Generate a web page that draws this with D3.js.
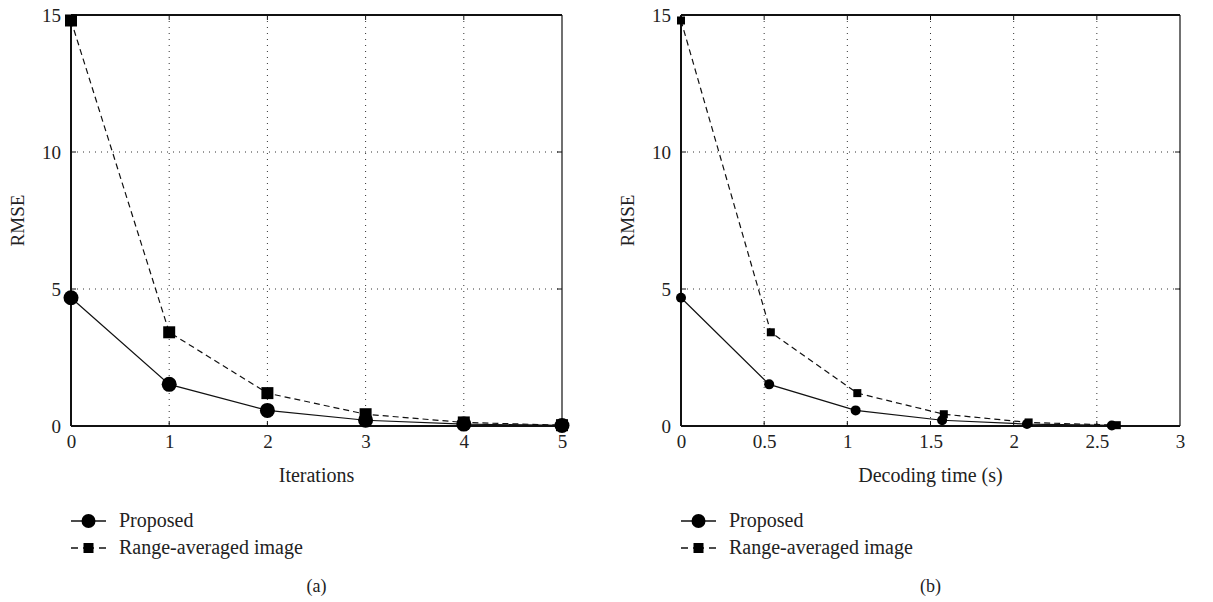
<!DOCTYPE html>
<html><head><meta charset="utf-8">
<script src="https://cdn.jsdelivr.net/npm/d3@7"></script>
<style>body{margin:0;background:#fff}svg{display:block}text{font-family:"Liberation Serif","DejaVu Serif",serif;fill:#222}</style>
</head><body>
<svg id="c" width="1213" height="602"></svg>
<script>
const iterations = [0, 1, 2, 3, 4, 5];
const proposedRMSE = [4.68, 1.52, 0.57, 0.21, 0.07, 0.02];
const rangeAvgRMSE = [14.8, 3.42, 1.2, 0.43, 0.13, 0.03];
const proposedTime = [0, 0.53, 1.05, 1.57, 2.08, 2.59];
const rangeAvgTime = [0, 0.54, 1.06, 1.58, 2.09, 2.62];
const iterTicks = [0, 1, 2, 3, 4, 5];
const timeTicks = [0, 0.5, 1, 1.5, 2, 2.5, 3];
const yTicks = [0, 5, 10, 15];
const legendLabels = ["Proposed", "Range-averaged image"];

const svg = d3.select("#c");
const plotTop = 15, plotBottom = 426;

function panel(opt) {
  const x = d3.scaleLinear().domain(opt.xDomain).range([opt.x0, opt.x1]);
  const y = d3.scaleLinear().domain([0, 15]).range([plotBottom, plotTop]);
  const g = svg.append("g");
  g.selectAll(".vg").data(opt.xTicks.slice(1, -1)).join("line")
    .attr("x1", d => x(d)).attr("x2", d => x(d)).attr("y1", plotTop).attr("y2", plotBottom)
    .attr("stroke", "#333").attr("stroke-width", 1).attr("stroke-dasharray", "1,5");
  g.selectAll(".hg").data(yTicks.slice(1, -1)).join("line")
    .attr("x1", opt.x0).attr("x2", opt.x1).attr("y1", d => y(d)).attr("y2", d => y(d))
    .attr("stroke", "#333").attr("stroke-width", 1).attr("stroke-dasharray", "1,5");
  // small inward ticks
  const tk = g.append("g").attr("stroke", "#111").attr("stroke-width", 1);
  opt.xTicks.slice(1, -1).forEach(d => {
    tk.append("line").attr("x1", x(d)).attr("x2", x(d)).attr("y1", plotBottom).attr("y2", plotBottom - 5);
    tk.append("line").attr("x1", x(d)).attr("x2", x(d)).attr("y1", plotTop).attr("y2", plotTop + 5);
  });
  yTicks.slice(1, -1).forEach(d => {
    tk.append("line").attr("x1", opt.x0).attr("x2", opt.x0 + 5).attr("y1", y(d)).attr("y2", y(d));
    tk.append("line").attr("x1", opt.x1).attr("x2", opt.x1 - 5).attr("y1", y(d)).attr("y2", y(d));
  });
  const xa = g.append("g").attr("transform", `translate(0,${plotBottom})`)
    .call(d3.axisBottom(x).tickValues(opt.xTicks).tickSize(0).tickPadding(9).tickFormat(d3.format("")));
  xa.select(".domain").remove();
  xa.selectAll("text").style("font-size", "19px").attr("fill", "#222");
  const ya = g.append("g").attr("transform", `translate(${opt.x0},0)`)
    .call(d3.axisLeft(y).tickValues(yTicks).tickSize(0).tickPadding(10));
  ya.select(".domain").remove();
  ya.selectAll("text").style("font-size", "19px").attr("fill", "#222");
  g.append("line").attr("x1", opt.x0).attr("x2", opt.x1).attr("y1", plotTop).attr("y2", plotTop).attr("stroke", "#111").attr("stroke-width", 2);
  g.append("line").attr("x1", opt.x0).attr("x2", opt.x1).attr("y1", plotBottom).attr("y2", plotBottom).attr("stroke", "#111").attr("stroke-width", 2);
  g.append("line").attr("x1", opt.x0).attr("x2", opt.x0).attr("y1", plotTop).attr("y2", plotBottom).attr("stroke", "#111").attr("stroke-width", 2);
  g.append("line").attr("x1", opt.x1).attr("x2", opt.x1).attr("y1", plotTop).attr("y2", plotBottom).attr("stroke", "#111").attr("stroke-width", 1.2);
  const line = d3.line().x(d => x(d[0])).y(d => y(d[1]));
  const rData = opt.rx.map((v, i) => [v, rangeAvgRMSE[i]]);
  const pData = opt.px.map((v, i) => [v, proposedRMSE[i]]);
  g.append("path").datum(rData).attr("d", line).attr("fill", "none").attr("stroke", "#111")
    .attr("stroke-width", 1.2).attr("stroke-dasharray", "6,4");
  g.append("path").datum(pData).attr("d", line).attr("fill", "none").attr("stroke", "#111")
    .attr("stroke-width", 1.2);
  g.selectAll(".sq").data(rData).join("rect")
    .attr("x", d => x(d[0]) - opt.sq / 2).attr("y", d => y(d[1]) - opt.sq / 2)
    .attr("width", opt.sq).attr("height", opt.sq).attr("fill", "#000");
  g.selectAll(".ci").data(pData).join("circle")
    .attr("cx", d => x(d[0])).attr("cy", d => y(d[1])).attr("r", opt.r).attr("fill", "#000");
  g.append("text").attr("x", (opt.x0 + opt.x1) / 2).attr("y", 482).attr("text-anchor", "middle")
    .style("font-size", "20px").text(opt.xLabel);
  g.append("text").attr("transform", `translate(${opt.x0 - 47},${(plotTop + plotBottom) / 2}) rotate(-90)`)
    .attr("text-anchor", "middle").style("font-size", "19px").text("RMSE");
  const lx = opt.x0;
  const lg = g.append("g");
  lg.append("line").attr("x1", lx).attr("x2", lx + 35).attr("y1", 521).attr("y2", 521).attr("stroke", "#111").attr("stroke-width", 1.5);
  lg.append("circle").attr("cx", lx + 17.5).attr("cy", 521).attr("r", 7).attr("fill", "#000");
  lg.append("line").attr("x1", lx).attr("x2", lx + 35).attr("y1", 548).attr("y2", 548).attr("stroke", "#111").attr("stroke-width", 1.5).attr("stroke-dasharray", "7,5,11,5,7");
  lg.append("rect").attr("x", lx + 12.5).attr("y", 543).attr("width", 10).attr("height", 10).attr("fill", "#000");
  lg.selectAll(".lt").data(legendLabels).join("text")
    .attr("x", lx + 48).attr("y", (d, i) => 527 + i * 27).style("font-size", "20px").text(d => d);
  g.append("text").attr("x", (opt.x0 + opt.x1) / 2).attr("y", 592).attr("text-anchor", "middle")
    .style("font-size", "18px").text(opt.tag);
}

panel({x0: 71, x1: 562, xDomain: [0, 5], xTicks: iterTicks, px: iterations, rx: iterations,
  sq: 12, r: 7.5, xLabel: "Iterations", tag: "(a)"});
panel({x0: 681, x1: 1180, xDomain: [0, 3], xTicks: timeTicks, px: proposedTime, rx: rangeAvgTime,
  sq: 8, r: 5, xLabel: "Decoding time (s)", tag: "(b)"});
</script>
</body></html>
